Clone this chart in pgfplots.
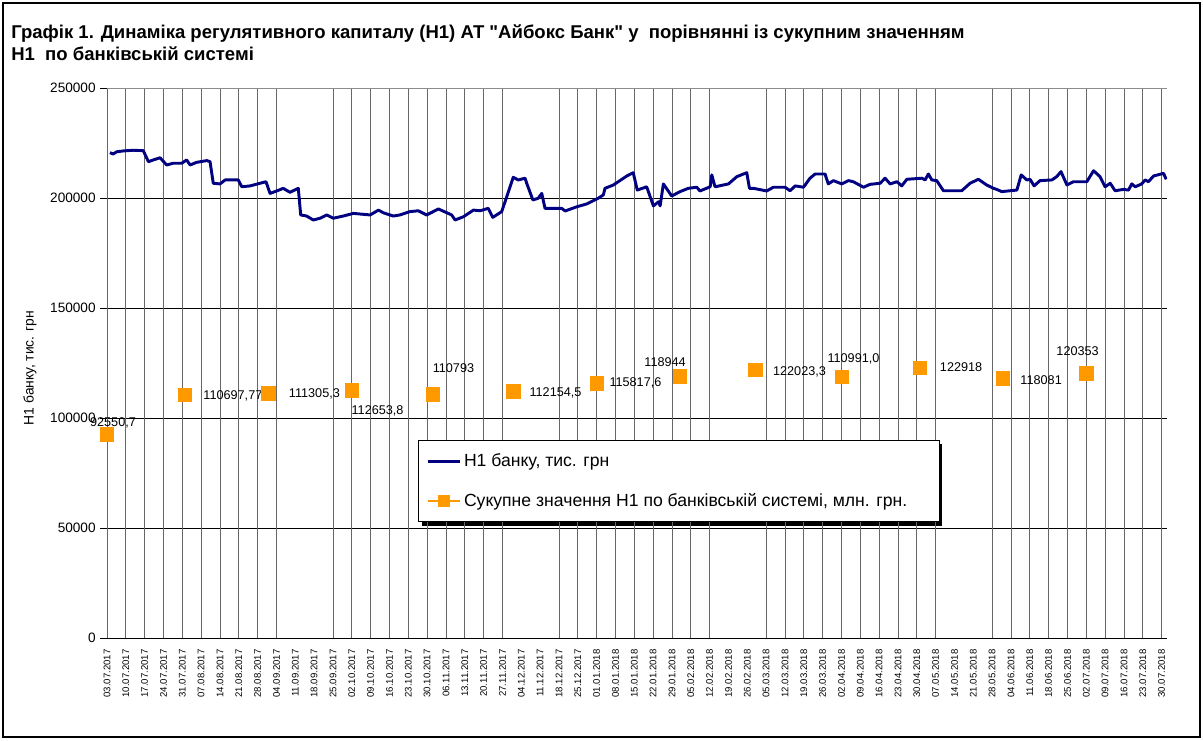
\documentclass[border=0pt]{standalone}
\usepackage{fontspec}
\setmainfont{Liberation Sans}[Ligatures=TeXOff]
\usepackage{pgfplots}
\usepackage{pgfplotstable}
\pgfplotsset{compat=1.18}

\definecolor{navyline}{HTML}{000080}
\definecolor{sysorange}{HTML}{FF9900}

% day = days since 03.07.2017
\pgfplotstableread{
day value
1.1 220600
2.3 220000
3.6 221000
6.1 221400
9.8 221700
13.5 221500
15.4 216500
17.2 217300
19.7 218300
22.2 215000
24.6 215800
27.8 215800
29.6 217300
30.9 215000
33.3 216200
37.1 217000
38.3 216500
39.5 206700
42.0 206400
43.9 208200
48.8 208200
50.1 205100
53.2 205500
56.9 206700
59.1 207400
60.6 202100
63.1 203200
65.5 204400
68.0 202600
71.1 204400
72.0 192300
74.2 191800
76.7 190000
79.2 190800
81.7 192300
84.1 190800
87.8 191800
91.6 193000
97.8 192300
100.9 194500
102.7 193300
106.4 191800
108.9 192300
112.6 193800
115.7 194200
118.8 192300
123.2 195000
126.3 193300
128.1 192300
129.4 190000
132.5 191500
136.2 194500
138.7 194200
141.7 195300
143.4 191200
146.7 193800
148.6 200600
151.0 209400
152.9 208200
155.4 209000
156.0 206700
158.3 199100
160.3 199900
161.6 202100
162.8 195300
169.0 195300
170.3 194100
174.6 196000
178.3 197300
182.6 199900
184.5 201400
185.1 204400
188.2 205900
193.2 210000
195.6 211500
197.1 203600
200.6 205100
203.1 196400
205.0 198300
205.6 196400
206.8 206400
209.9 200900
213.0 202900
216.1 204400
219.2 204900
220.4 203200
224.2 205100
224.8 210500
226.0 205100
231.0 206400
234.1 209700
237.8 211500
238.8 204400
240.3 204400
245.2 203200
247.7 204900
252.0 204900
253.9 203300
255.8 205500
258.9 204900
261.3 209000
263.2 210900
266.9 210900
268.1 206400
270.0 207900
273.1 206400
275.6 207900
277.4 207400
281.2 204900
283.6 206200
287.4 206700
289.2 209000
291.1 206400
293.6 207400
295.4 205500
297.3 208500
302.9 209000
304.1 208200
305.3 210900
306.6 208200
308.4 207900
310.9 203300
317.7 203300
320.8 206700
323.9 208500
327.0 205900
329.5 204400
330.7 203900
332.6 202900
335.7 203300
338.2 203600
339.8 210500
341.9 208200
343.1 208500
344.6 205500
346.8 207900
351.2 208200
353.0 209700
354.6 212000
356.8 205900
359.2 207400
364.2 207400
366.7 212400
369.1 209700
371.0 205100
372.9 206700
374.7 203300
377.8 203900
379.7 203600
380.9 206400
382.2 205100
384.6 206400
385.9 208200
387.1 207400
389.0 210000
392.7 211200
393.7 208500
}\bankdata

% dx, dy: offset of the label centre from the marker, in pt
\pgfplotstableread{
day value lab dx dy
0 92550.7 92550,7 4.5 8.6
29 110697.77 110697,77 35.9 -1.1
60 111305.3 111305,3 34.5 -0.7
91 112653.8 112653,8 19.3 -15.6
121 110793 110793 15.7 19.7
151 112154.5 112154,5 31.7 -1.3
182 115817.6 115817,6 29.1 0
213 118944 118944 -11.2 10.7
241 122023.3 122023,3 33.1 -1.9
273 118600 110991,0 9 13.6
302 122918 122918 31.2 0
333 118081 118081 28.7 -1.3
364 120353 120353 -6.5 16.6
}\sysdata

\begin{document}
\begin{tikzpicture}
\useasboundingbox (0pt,0pt) rectangle (902.25pt,555pt);
% legend shadow
\fill[black, x=0.75pt, y=0.75pt] (422,214) rectangle (942,296);
\begin{axis}[
  at={(80.25pt,76.5pt)}, anchor=south west,
  scale only axis,
  width=795pt, height=412.5pt,
  xmin=0, xmax=394,
  ymin=0, ymax=250000,
  axis x line*=bottom, axis y line*=left,
  axis line style={-},
  y axis line style={draw=black!45},
  tick align=outside,
  scaled y ticks=false,
  ytick={0,50000,100000,150000,200000},
  yticklabels={0,50000,100000,150000,200000},
  extra y ticks={250000},
  extra y tick labels={250000},
  extra y tick style={grid=major, y grid style={black!45, line width=0.6pt}},
  yticklabel style={font=\fontsize{10.2}{12}\selectfont},
  ymajorgrids=true,
  y grid style={black, line width=0.6pt},
  x grid style={black!60, line width=0.6pt},
  ylabel={Н1 банку, тис. грн},
  every axis y label/.style={at={(axis description cs:-0.0726,0.491)}, rotate=90, anchor=center, font=\fontsize{10.4}{12}\selectfont},
  xtick={0,7,...,392},
  xticklabels={03.07.2017,10.07.2017,17.07.2017,24.07.2017,31.07.2017,07.08.2017,14.08.2017,21.08.2017,28.08.2017,04.09.2017,11.09.2017,18.09.2017,25.09.2017,02.10.2017,09.10.2017,16.10.2017,23.10.2017,30.10.2017,06.11.2017,13.11.2017,20.11.2017,27.11.2017,04.12.2017,11.12.2017,18.12.2017,25.12.2017,01.01.2018,08.01.2018,15.01.2018,22.01.2018,29.01.2018,05.02.2018,12.02.2018,19.02.2018,26.02.2018,05.03.2018,12.03.2018,19.03.2018,26.03.2018,02.04.2018,09.04.2018,16.04.2018,23.04.2018,30.04.2018,07.05.2018,14.05.2018,21.05.2018,28.05.2018,04.06.2018,11.06.2018,18.06.2018,25.06.2018,02.07.2018,09.07.2018,16.07.2018,23.07.2018,30.07.2018},
  xticklabel style={rotate=90, anchor=east, font=\fontsize{7.2}{8}\selectfont},
  xtick style={draw=none},
  extra x ticks={0,7,14,21,28,35,42,49,56,63,84,91,98,105,112,119,126,133,140,147,168,175,182,189,196,203,210,217,224,245,252,259,266,273,280,287,294,301,308,329,336,343,350,357,364,371,378,385,392},
  extra x tick labels={},
  extra x tick style={grid=major, tick style={draw=black}},
  ytick style={draw=black},
  major tick length=5pt,
  legend image code/.code={\draw[#1] (0pt,0pt) -- (24pt,0pt);},
  legend cell align=left,
  legend style={at={(axis description cs:0.2934,0.36)}, anchor=north west,
    draw=black, fill=white, line width=0.6pt,
    font=\fontsize{13.2}{15}\selectfont,
    inner xsep=6pt, inner ysep=8pt, row sep=14.5pt},
]
\addplot[navyline, line width=2.2pt, line join=round, no markers]
  table[x=day, y=value] {\bankdata};
\addlegendentry{Н1 банку, тис. грн}

\addplot[only marks, mark=square*, mark size=5pt,
  mark options={draw=sysorange, fill=sysorange},
  legend image code/.code={\draw[sysorange, line width=1.5pt] (0pt,0pt) -- (24pt,0pt);
    \fill[sysorange] (8pt,-4pt) rectangle (16pt,4pt);},
  point meta=explicit symbolic,
  visualization depends on={\thisrow{dx} \as \labdx},
  visualization depends on={\thisrow{dy} \as \labdy},
  nodes near coords,
  nodes near coords style={anchor=center, xshift=\labdx pt, yshift=\labdy pt,
    inner sep=0pt, text=black, font=\fontsize{9.5}{11}\selectfont},
] table[x=day, y=value, meta=lab] {\sysdata};
\addlegendentry{Сукупне значення Н1 по банківській системі, млн. грн.\rule{16pt}{0pt}}
\end{axis}
\begin{scope}[x=0.75pt, y=0.75pt]
  \draw[line width=1.2pt] (3,3) rectangle (1200,737);
  \node[anchor=base west, inner sep=0pt, font=\bfseries\fontsize{13.9}{16}\selectfont] at (11,701)
    {Графік 1. Динаміка регулятивного капиталу (Н1) АТ "Айбокс Банк" у \ порівнянні із сукупним значенням};
  \node[anchor=base west, inner sep=0pt, font=\bfseries\fontsize{13.9}{16}\selectfont] at (11,679)
    {Н1 \ по банківській системі};
\end{scope}
\end{tikzpicture}
\end{document}
